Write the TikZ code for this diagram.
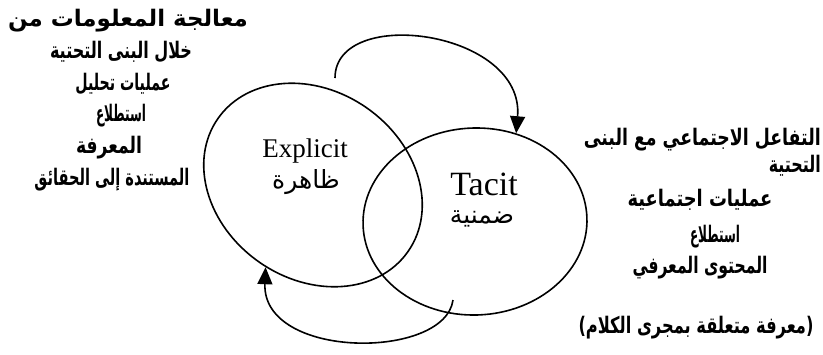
\documentclass[tikz,border=0pt]{standalone}
\usepackage{fontspec}
\usepackage{graphicx}
\setmainfont{Liberation Serif}
\newfontfamily\arabicfont[Script=Arabic]{DejaVu Sans}
\newfontfamily\parenfont{DejaVu Sans}
\TeXXeTstate=1
\usetikzlibrary{shapes.geometric,arrows.meta}
\newsavebox{\arbx}
\newcommand{\fitbox}[2]{\sbox{\arbx}{#2}\scalebox{\fpeval{#1/(\the\wd\arbx)}}[1.2]{\usebox{\arbx}}}
\begin{document}
\begin{tikzpicture}[x=1pt,y=-1pt,
  blob/.style={draw, ellipse, line width=1.6pt, inner sep=0pt},
  flow/.style={line width=1.6pt, -{Triangle[length=17pt,width=15pt]}},
  ar/.style={font=\arabicfont\bfseries\fontsize{19}{22}\selectfont, inner sep=0pt},
  arin/.style={font=\arabicfont\fontsize{25}{28}\selectfont, inner sep=0pt},
  lat/.style={inner sep=0pt, anchor=base}]
\useasboundingbox (0,0) rectangle (823,354);
% ellipses
\node[blob, minimum width=232pt, minimum height=188pt, rotate=-35] (expl) at (313,185) {};
\node[blob, minimum width=224pt, minimum height=187pt, rotate=2] (tacit) at (475,221.5) {};
% labels inside
\node[lat, font=\fontsize{27}{30}\selectfont] (explt) at (305,157) {Explicit};
\node[arin] (expla) at (306,182) {\beginR ظاهرة\endR};
\node[lat, font=\fontsize{34}{38}\selectfont] (tacitt) at (484,195) {Tacit};
\node[arin] (tacita) at (482,219) {\beginR ضمنية\endR};
% arrows
\coordinate (ts) at (335,78);
\coordinate (bs) at (453,300);
\draw[flow] (ts) .. controls (335,5) and (525,30) .. (tacit.63);
\draw[flow] (bs) .. controls (445,360) and (262,360) .. (expl.275);
% left text
\node[ar] (l1) at (128,21) {\fitbox{240pt}{\beginR معالجة المعلومات من\endR}};
\node[ar] (l2) at (121,52) {\fitbox{142pt}{\beginR خلال البنى التحتية\endR}};
\node[ar] (l3) at (123,84) {\fitbox{95pt}{\beginR عمليات تحليل\endR}};
\node[ar] (l4) at (121,116) {\fitbox{50pt}{\beginR استطلاع\endR}};
\node[ar] (l5) at (109,148) {\fitbox{66pt}{\beginR المعرفة\endR}};
\node[ar] (l6) at (112,180) {\fitbox{155pt}{\beginR المستندة إلى الحقائق\endR}};
% right text
\node[ar, anchor=east] (r1) at (821,140) {\fitbox{237pt}{\beginR التفاعل الاجتماعي مع البنى\endR}};
\node[ar, anchor=east] (r2) at (821,166) {\fitbox{52pt}{\beginR التحتية\endR}};
\node[ar] (r3) at (700,200) {\fitbox{145pt}{\beginR عمليات اجتماعية\endR}};
\node[ar] (r4) at (715,237) {\fitbox{50pt}{\beginR استطلاع\endR}};
\node[ar] (r5) at (700,268) {\fitbox{135pt}{\beginR المحتوى المعرفي\endR}};
\node[ar] (r6) at (696,328) {\fitbox{235pt}{{\parenfont\bfseries (}\beginR معرفة متعلقة بمجرى الكلام\endR{\parenfont\bfseries )}}};
\end{tikzpicture}
\end{document}
